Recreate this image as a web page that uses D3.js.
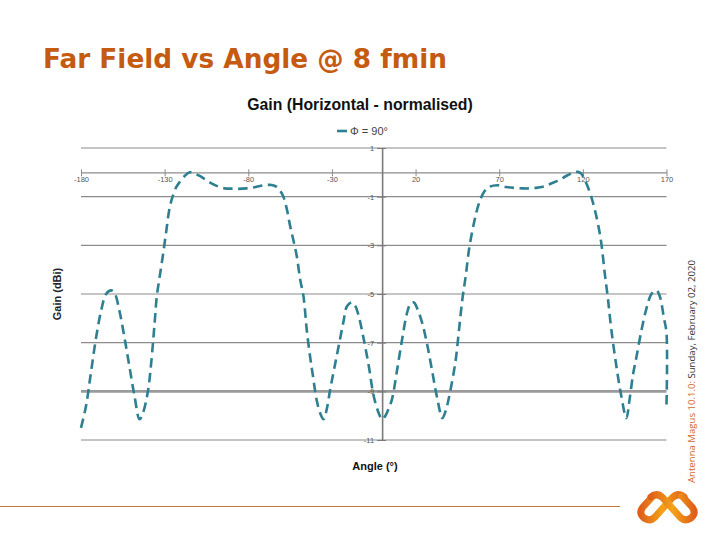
<!DOCTYPE html>
<html><head><meta charset="utf-8">
<script src="https://cdn.jsdelivr.net/npm/d3@7/dist/d3.min.js"></script>
<style>html,body{margin:0;padding:0;background:#fff;}svg{display:block;}</style>
</head><body>
<script>
const angles = [-180,-177,-174,-171,-168,-165,-162,-160,-157,-154,-151,-148,-145,-143,-140,-138,-136,-134.7,-133,-131,-129,-127,-125,-123,-121,-118,-115,-112,-109,-106,-102,-98,-94,-90,-86,-81,-77,-73,-69,-66,-63,-61,-59,-57,-55,-53,-51,-49,-47,-45,-43,-41.5,-39,-37,-35,-33,-31,-29,-27,-25,-23,-21,-18,-16,-14,-11,-8,-5,-2,0,2,4,6,9,12,15,17,19,21,24,27,30,33,36,38,41,44,46,48,50,52,55,58,61,64,69,74,79,84,88,93,97,101,106,110,114,117,119,121,123,125,127,129,131,133,135,137,140,143,146,148,150,152,155,158,161,164,166,168.5,170,170];
const gains = [-10.5,-9.6,-8.2,-6.8,-5.7,-5.0,-4.85,-4.95,-5.7,-6.8,-8.0,-9.2,-10.15,-9.9,-9.0,-7.8,-6.2,-5.1,-4.3,-3.4,-2.4,-1.45,-0.95,-0.6,-0.4,-0.15,0.0,-0.05,-0.15,-0.28,-0.45,-0.58,-0.66,-0.67,-0.68,-0.66,-0.62,-0.56,-0.52,-0.52,-0.6,-0.75,-1.0,-1.5,-2.2,-2.8,-3.45,-4.4,-5.1,-6.5,-7.6,-8.3,-9.4,-9.9,-10.15,-9.7,-8.9,-8.2,-7.5,-6.8,-6.1,-5.5,-5.35,-5.5,-5.9,-6.85,-7.95,-9.2,-9.9,-10.15,-10.0,-9.7,-9.3,-8.1,-6.85,-5.75,-5.4,-5.35,-5.6,-6.2,-7.1,-8.2,-9.3,-10.1,-9.8,-8.9,-7.7,-6.45,-5.2,-4.25,-3.15,-2.05,-1.25,-0.8,-0.6,-0.53,-0.6,-0.64,-0.66,-0.66,-0.63,-0.58,-0.46,-0.32,-0.15,-0.02,0.02,-0.05,-0.3,-0.6,-1.0,-1.5,-2.1,-2.9,-4.1,-5.2,-6.45,-7.95,-9.2,-10.1,-9.3,-8.3,-7.6,-6.5,-5.6,-5.0,-4.85,-5.1,-6.0,-6.6,-9.55];
const xTicks = [-180,-130,-80,-30,20,70,120,170];
const yTicks = [1,-1,-3,-5,-7,-9,-11];
const slideTitle = "Far Field vs Angle @ 8 fmin";
const chartTitle = "Gain (Horizontal - normalised)";
const seriesName = "Φ = 90°";
const xLabel = "Angle (°)";
const yLabel = "Gain (dBi)";
const stampA = "Antenna Magus 10.1.0:";
const stampB = " Sunday, February 02, 2020";

const W = 720, H = 540;
const svg = d3.select("body").append("svg").attr("width", W).attr("height", H);
svg.append("rect").attr("width", W).attr("height", H).attr("fill", "#fff");

const orange = "#c55a11";
const teal = "#2e7f8f";

// slide title
svg.append("text").attr("x", 43).attr("y", 68)
  .attr("font-family", "'DejaVu Sans', Verdana, sans-serif").attr("font-weight", "bold")
  .attr("font-size", 27).attr("fill", orange)
  .attr("textLength", 404).attr("lengthAdjust", "spacingAndGlyphs")
  .text(slideTitle);

const x = d3.scaleLinear().domain([-180, 170]).range([81, 666.5]);
const y = d3.scaleLinear().domain([-11, 1]).range([440, 148]);

// gridlines
const g = svg.append("g");
g.selectAll("line.grid").data(yTicks).enter().append("line")
  .attr("x1", x(-180)).attr("x2", x(170))
  .attr("y1", d => y(d)).attr("y2", d => y(d))
  .attr("stroke", d => d === -9 ? "#9a9a9a" : "#8c8c8c")
  .attr("stroke-width", d => d === -9 ? 2.6 : 1.2);

// horizontal axis through 0
const xAxis = d3.axisBottom(x).tickValues(xTicks).tickSize(0).tickFormat(d => d3.format("")(d).replace("−", "-"));
const xa = svg.append("g").attr("transform", `translate(0,${y(0)})`).call(xAxis);
xa.select(".domain").attr("stroke", "#8c8c8c").attr("stroke-width", 1.2);
xa.selectAll(".tick text").attr("font-size", 7.5).attr("fill", "#555").attr("dy", "0.9em")
  .attr("font-family", "'Liberation Sans', Arial, sans-serif");
xa.selectAll(".tick").append("line").attr("y1", -3).attr("y2", 4).attr("stroke", "#8c8c8c");

// vertical axis through 0
const yAxis = d3.axisLeft(y).tickValues(yTicks).tickSize(0).tickFormat(d => d3.format("")(d).replace("−", "-"));
const ya = svg.append("g").attr("transform", `translate(${x(0)},0)`).call(yAxis);
ya.select(".domain").attr("stroke", "#7a7a7a").attr("stroke-width", 1.6);
ya.selectAll(".tick text").attr("font-size", 7.5).attr("fill", "#555").attr("x", -8)
  .attr("font-family", "'Liberation Sans', Arial, sans-serif");
ya.selectAll(".tick").append("line").attr("x1", -5).attr("x2", 4).attr("stroke", "#7a7a7a");

// series
const pts = angles.map((a, i) => [a, gains[i]]);
const line = d3.line().x(d => x(d[0])).y(d => y(d[1])).curve(d3.curveCatmullRom.alpha(0.5));
svg.append("path").attr("d", line(pts)).attr("fill", "none")
  .attr("stroke", teal).attr("stroke-width", 2.6).attr("stroke-dasharray", "9.5,5.5");

// chart title
svg.append("text").attr("x", 360).attr("y", 110).attr("text-anchor", "middle")
  .attr("font-family", "'Liberation Sans', Arial, sans-serif").attr("font-weight", "bold")
  .attr("font-size", 15.8).attr("fill", "#111").text(chartTitle);

// legend
svg.append("line").attr("x1", 337).attr("x2", 347).attr("y1", 131).attr("y2", 131)
  .attr("stroke", teal).attr("stroke-width", 2.6);
svg.append("text").attr("x", 350).attr("y", 135)
  .attr("font-family", "'Liberation Sans', Arial, sans-serif").attr("font-size", 11)
  .attr("fill", "#444").text(seriesName);

// axis labels
svg.append("text").attr("x", 375).attr("y", 470).attr("text-anchor", "middle")
  .attr("font-family", "'Liberation Sans', Arial, sans-serif").attr("font-weight", "bold")
  .attr("font-size", 11).attr("fill", "#111").text(xLabel);
svg.append("text").attr("transform", "translate(61,294) rotate(-90)").attr("text-anchor", "middle")
  .attr("font-family", "'Liberation Sans', Arial, sans-serif").attr("font-weight", "bold")
  .attr("font-size", 11).attr("fill", "#222").text(yLabel);

// vertical stamp
const st = svg.append("text").attr("transform", "translate(695,483) rotate(-90)")
  .attr("font-family", "'Open Sans', 'Noto Sans', sans-serif").attr("font-size", 9.6);
st.append("tspan").attr("fill", "#d0692a").text(stampA);
st.append("tspan").attr("fill", "#333").text(stampB);

// footer line
svg.append("line").attr("x1", 0).attr("x2", 620).attr("y1", 506.5).attr("y2", 506.5)
  .attr("stroke", "#c8773a").attr("stroke-width", 1);

// logo
const defs = svg.append("defs");
const lg = defs.append("linearGradient").attr("id", "lg").attr("x1", "0").attr("y1", "0").attr("x2", "1").attr("y2", "0");
lg.append("stop").attr("offset", "0").attr("stop-color", "#e0601a");
lg.append("stop").attr("offset", "0.5").attr("stop-color", "#f2a319");
lg.append("stop").attr("offset", "1").attr("stop-color", "#e0601a");
const logo = svg.append("g").attr("fill", "none").attr("stroke", "url(#lg)").attr("stroke-width", 7).attr("stroke-linecap", "round");
logo.append("path").attr("d", "M653,496 L643,507 Q638,513 644,518 Q650,522 655,517 L672,498 Q678,492 684,497");
logo.append("path").attr("d", "M682,496 L692,507 Q697,513 691,518 Q685,522 680,517 L663,498 Q657,492 651,497");
</script>
</body></html>
